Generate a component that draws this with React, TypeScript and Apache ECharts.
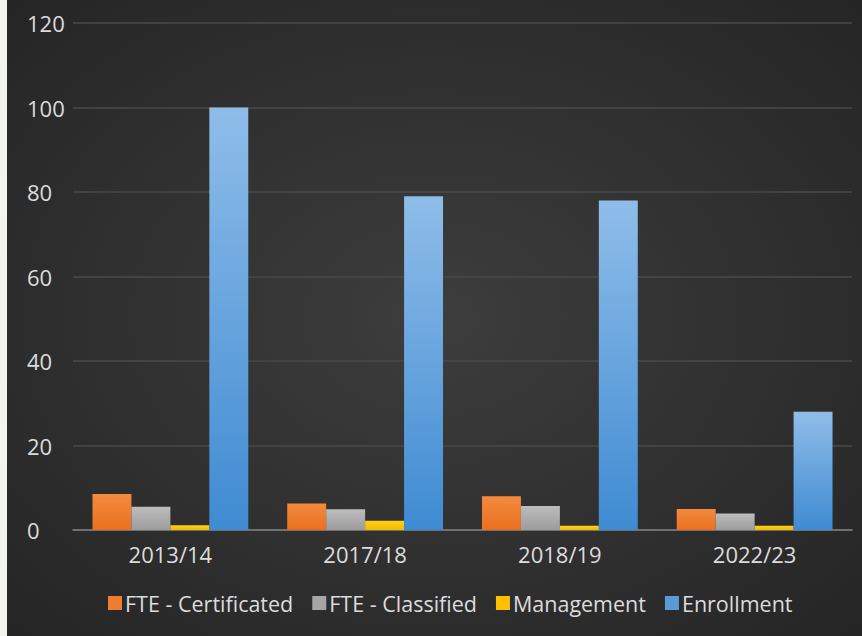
import React, { useEffect, useRef } from "react";
import * as echarts from "echarts";

const categories = ["2013/14", "2017/18", "2018/19", "2022/23"];
const fteCertificated = [8.5, 6.3, 8.0, 5.0];
const fteClassified = [5.5, 4.9, 5.7, 3.9];
const management = [1.1, 2.2, 1.0, 1.0];
const enrollment = [100, 79, 78, 28];
const yTicks = { min: 0, max: 120, interval: 20 };

const FONT = "'Open Sans', 'Noto Sans', sans-serif";
const TEXT = "#dcdcdc";

function grad(top: string, bottom: string) {
  return new echarts.graphic.LinearGradient(0, 0, 0, 1, [
    { offset: 0, color: top },
    { offset: 1, color: bottom },
  ]);
}

export default function App() {
  const ref = useRef<HTMLDivElement>(null);
  useEffect(() => {
    if (!ref.current) return;
    const chart = echarts.init(ref.current, undefined, { renderer: "svg" });
    const mk = (name: string, data: number[], top: string, bottom: string, legendColor: string) => ({
      name,
      type: "bar",
      data,
      barGap: "0%",
      barCategoryGap: "20%",
      itemStyle: { color: grad(top, bottom) },
      color: legendColor,
    });
    chart.setOption({
      animation: false,
      backgroundColor: "#f3f3ef",
      graphic: [
        {
          type: "rect",
          z: -10,
          silent: true,
          shape: { x: 7, y: 0, width: 855, height: 636 },
          style: {
            fill: new echarts.graphic.RadialGradient(0.5, 0.5, 0.7, [
              { offset: 0, color: "#3d3d3d" },
              { offset: 1, color: "#252525" },
            ]),
          },
        },
      ],
      grid: { left: 73, right: 10, top: 23, bottom: 106 },
      legend: {
        left: 108,
        top: 592,
        padding: 0,
        itemWidth: 14,
        itemHeight: 14,
        itemGap: 19,
        icon: "rect",
        textStyle: { color: TEXT, fontSize: 21.5, fontFamily: FONT, padding: [0, 0, 0, -2] },
        data: ["FTE - Certificated", "FTE - Classified", "Management", "Enrollment"].map((n, i) => ({
          name: n,
          itemStyle: { color: ["#ED7D31", "#A5A5A5", "#FFC000", "#5B9BD5"][i] },
        })),
      },
      xAxis: {
        type: "category",
        data: categories,
        axisLine: { lineStyle: { color: "#808080", width: 1.5 } },
        axisTick: { show: false },
        axisLabel: { color: TEXT, fontSize: 22, fontFamily: FONT, margin: 13 },
      },
      yAxis: {
        type: "value",
        min: yTicks.min,
        max: yTicks.max,
        interval: yTicks.interval,
        axisLine: { show: false },
        axisTick: { show: false },
        splitLine: { lineStyle: { color: "#4a4a4a", width: 1.5 } },
        axisLabel: { color: TEXT, fontSize: 22, fontFamily: FONT, align: "left", margin: 46 },
      },
      series: [
        mk("FTE - Certificated", fteCertificated, "#f38a3e", "#ea7020", "#ED7D31"),
        mk("FTE - Classified", fteClassified, "#bdbdbd", "#9c9c9c", "#A5A5A5"),
        mk("Management", management, "#ffd21a", "#f2b800", "#FFC000"),
        mk("Enrollment", enrollment, "#8fbde9", "#3f8bd2", "#5B9BD5"),
      ],
    });
    return () => chart.dispose();
  }, []);
  return (
    <div
      ref={ref}
      style={{ position: "fixed", left: 0, top: 0, width: 862, height: 636 }}
    />
  );
}
